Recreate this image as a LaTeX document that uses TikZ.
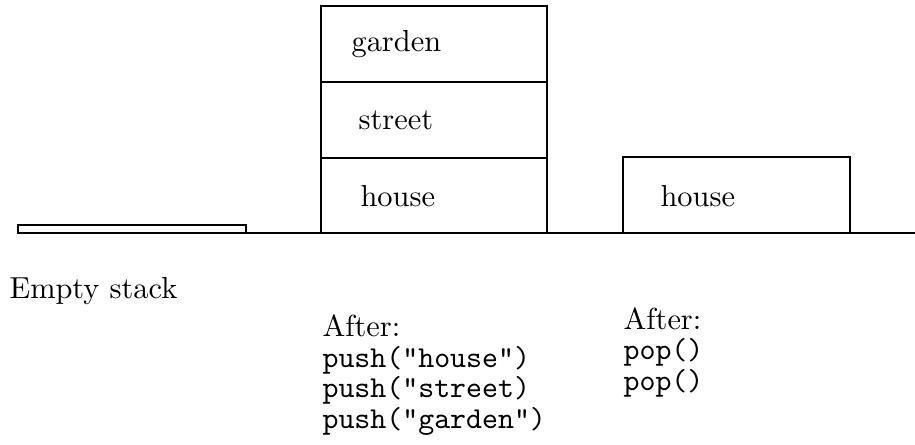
\documentclass[tikz,border=0pt]{standalone}
\begin{document}
\begin{tikzpicture}[x=0.339pt,y=-0.339pt,
  cell/.style={draw=black,line width=0.4pt},
  lbl/.style={anchor=west,inner sep=0pt,font=\fontsize{10.3}{10}\selectfont},
  captxt/.style={anchor=base west,inner sep=0pt,align=left,font=\fontsize{10.3}{10.3}\selectfont}]
\useasboundingbox (0,0) rectangle (915,444);
% ground line
\draw[line width=0.4pt] (18,233) -- (915,233);
% empty stack
\draw[cell] (18,225) rectangle (246,233);
% full stack
\draw[cell] (321,158) rectangle (547,233);
\draw[cell] (321,82) rectangle (547,158);
\draw[cell] (321,6) rectangle (547,82);
\node[lbl] (garden) at (351,44) {garden};
\node[lbl] (street) at (358,120) {street};
\node[lbl] (house1) at (360,196) {house};
% after pops
\draw[cell] (623,157) rectangle (850,233);
\node[lbl] (house2) at (660,196) {house};
% captions (base anchor = last line)
\node[captxt] (empty) at (9,298) {Empty stack};
\node[captxt] (after1) at (322,428) {After:\\\ttfamily push("house")\\\ttfamily push("street)\\\ttfamily push("garden")};
\node[captxt] (after2) at (623,390) {After:\\\ttfamily pop()\\\ttfamily pop()};
\end{tikzpicture}
\end{document}
